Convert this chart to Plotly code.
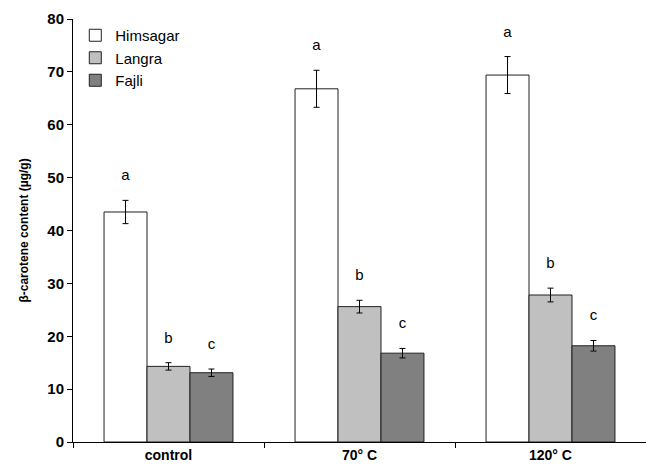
import plotly.graph_objects as go

categories = ["control", "70° C", "120° C"]
series_names = ["Himsagar", "Langra", "Fajli"]
himsagar = [43.5, 66.8, 69.4]
himsagar_err = [2.2, 3.5, 3.5]
langra = [14.3, 25.6, 27.8]
langra_err = [0.7, 1.2, 1.3]
fajli = [13.1, 16.8, 18.2]
fajli_err = [0.7, 0.9, 1.0]
letters = [["a", "a", "a"], ["b", "b", "b"], ["c", "c", "c"]]

values = [himsagar, langra, fajli]
errors = [himsagar_err, langra_err, fajli_err]
colors = ["#ffffff", "#c0c0c0", "#808080"]

fig = go.Figure()
for i, (name, v, e, c) in enumerate(zip(series_names, values, errors, colors)):
    fig.add_trace(go.Bar(
        name=name, x=categories, y=v, offsetgroup=str(i),
        marker=dict(color=c, line=dict(color="#202020", width=1)),
        error_y=dict(type="data", array=e, visible=True, color="black",
                     thickness=1, width=3),
    ))

# letters above error bars
for i, (v, e, lt) in enumerate(zip(values, errors, letters)):
    fig.add_trace(go.Scatter(
        x=categories, y=[a + b + 4.5 for a, b in zip(v, e)],
        mode="text", text=lt, showlegend=False, offsetgroup=str(i),
        textfont=dict(family="Liberation Sans, Arial", size=15, color="black"),
        hoverinfo="skip",
    ))

fig.update_layout(
    width=646, height=475,
    margin=dict(l=73, r=0, t=19, b=33),
    paper_bgcolor="white", plot_bgcolor="white",
    barmode="group", bargap=0.325, bargroupgap=0,
    scattermode="group", scattergap=0.325,
    font=dict(family="Liberation Sans, Arial", color="black"),
    legend=dict(x=0.004, y=1.0, xanchor="left", yanchor="top",
                font=dict(size=15), bgcolor="rgba(0,0,0,0)",
                tracegroupgap=0, itemwidth=30),
)
fig.update_xaxes(
    showline=True, linecolor="black", linewidth=1,
    ticks="outside", tickson="boundaries", ticklen=5, tickcolor="black",
    tickfont=dict(size=14, family="Liberation Sans, Arial", weight="bold"),
    showgrid=False,
)
fig.update_yaxes(
    range=[0, 80], dtick=10, showline=True, linecolor="black", linewidth=1,
    ticks="outside", ticklen=5, tickcolor="black", showgrid=False,
    zeroline=False,
    tickfont=dict(size=15, family="Liberation Sans, Arial", weight="bold"),
    title=dict(text="β-carotene content (µg/g)", standoff=16,
               font=dict(size=12, family="Liberation Sans, Arial", weight="bold")),
)

fig.write_html("out.html")
